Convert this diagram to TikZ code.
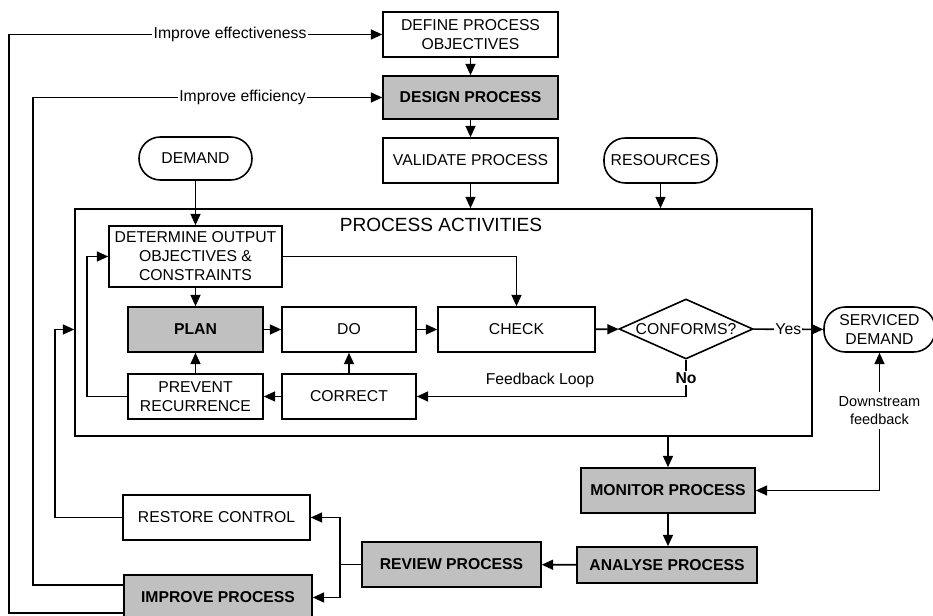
\documentclass[tikz,border=0pt]{standalone}
\usepackage{fontspec}
\setmainfont{Liberation Sans}
\usetikzlibrary{arrows.meta,shapes.geometric}
\definecolor{boxgray}{RGB}{192,192,192}

\begin{document}
\begin{tikzpicture}[x=0.75pt,y=-0.75pt,line width=1.2pt,
  font=\fontsize{11.8}{14.2}\selectfont,
  >={Triangle[length=8.5pt,width=7.5pt]},
  box/.style={draw,rectangle,align=center,inner sep=0pt,minimum width=#1,minimum height=33.75pt},
  grey/.style={fill=boxgray,font=\fontsize{11.8}{14.2}\selectfont\bfseries},
  term/.style={draw,rectangle,rounded corners=16pt,align=center,inner sep=0pt,minimum width=84.75pt,minimum height=32.25pt},
  lbl/.style={fill=white,inner sep=1pt}]
 \useasboundingbox (0,0) rectangle (933,616);

 \node[box=131.25pt] (def) at (470.5,34.5) {DEFINE PROCESS\\OBJECTIVES};
 \node[box=131.25pt,grey,minimum height=32.25pt] (design) at (470.5,97.5) {DESIGN PROCESS};
 \node[box=131.25pt] (valid) at (470.5,160.5) {VALIDATE PROCESS};
 \node[term] (demand) at (195.5,158.5) {DEMAND};
 \node[term,minimum height=33.75pt] (res) at (660.5,160.5) {RESOURCES};

 \node[draw,minimum width=552.75pt,minimum height=170.25pt] (pa) at (443.5,322.5) {};
 \node[font=\fontsize{14.3}{16}\selectfont] (patitle) at (441,225) {PROCESS ACTIVITIES};
 \node[box=129.75pt,minimum height=45.75pt] (det) at (195.5,256.5) {DETERMINE OUTPUT\\OBJECTIVES \&\\CONSTRAINTS};
 \node[box=101.25pt,grey] (plan) at (195.5,329.5) {PLAN};
 \node[box=100.5pt] (do) at (349,329.5) {DO};
 \node[box=117.75pt] (check) at (516.5,329.5) {CHECK};
 \node[draw,diamond,inner sep=0pt,minimum width=100.5pt,minimum height=45pt,label=center:CONFORMS?] (conf) at (686,329) {};
 \node[box=101.25pt] (prevent) at (195.5,396.5) {PREVENT\\RECURRENCE};
 \node[box=100.5pt] (correct) at (349,396.5) {CORRECT};
 \node (loop) at (540,380) {Feedback Loop};

 \node[term,minimum width=83.25pt,minimum height=33.75pt] (serv) at (879.5,329.5) {SERVICED\\DEMAND};
 \node[font=\fontsize{10.9}{13}\selectfont,align=center] (down) at (879.5,410.5) {Downstream\\feedback};

 \node[box=130.5pt,grey] (monitor) at (668,490.5) {MONITOR PROCESS};
 \node[box=135pt,grey,minimum height=27pt] (analyse) at (667,565) {ANALYSE PROCESS};
 \node[box=134.25pt,grey] (review) at (451.5,564.5) {REVIEW PROCESS};
 \node[box=140.25pt] (restore) at (216.5,517.5) {RESTORE CONTROL};
 \node[box=141pt,grey] (improve) at (218,597.5) {IMPROVE PROCESS};

 \draw[->] (def) -- (design);
 \draw[->] (design) -- (valid);
 \draw[->] (valid) -- (valid.south |- pa.north);
 \draw[->] (res) -- (res.south |- pa.north);
 \draw[->] (demand) -- (det);
 \draw[->] (det) -- (plan);
 \draw[->] (det.east) -| (check.north);
 \draw[->] (plan) -- (do);
 \draw[->] (do) -- (check);
 \draw[->] (check) -- (conf);
 \draw[->] (conf) -- node[lbl]{Yes} (serv);
 \draw[->] (conf.south) |- node[lbl,pos=0.25,font=\fontsize{11.8}{14.2}\selectfont\bfseries]{No} (correct.east);
 \draw[->] (correct) -- (prevent);
 \draw[->] (correct) -- (do);
 \draw[->] (prevent) -- (plan);
 \draw[->] (prevent.west) -- ++(-40,0) |- (det.west);

 \draw[->] (down.north) -- (down.north |- serv.south);
 \draw[->] (down) |- (monitor);
 \draw[->] (monitor.north |- pa.south) -- (monitor);
 \draw[->] (monitor) -- (monitor.south |- analyse.north);
 \draw[->] (analyse) -- (review);
 \draw[->] (review.west) -- ++(-21,0) |- (restore);
 \draw[->] (review.west) -- ++(-21,0) |- (improve);
 \draw[->] (restore.west) -- ++(-67,0) |- (pa.west |- plan);
 \draw[->] ([yshift=9.4pt]improve.west) -- ++(-90,0) |- node[lbl,pos=0.8]{Improve efficiency} (design);
 \draw[->] ([yshift=-11.6pt]improve.west) -- ++(-114,0) |- node[lbl,pos=0.796]{Improve effectiveness} (def);
\end{tikzpicture}
\end{document}
